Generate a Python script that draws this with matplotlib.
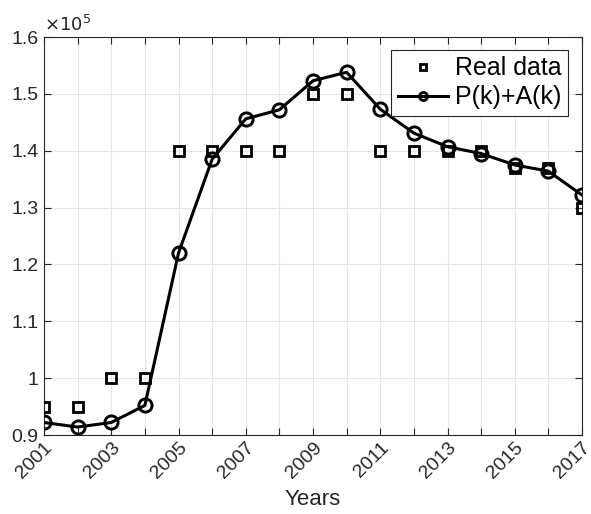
import matplotlib
matplotlib.use('Agg')
import matplotlib.pyplot as plt
import matplotlib.transforms as mtransforms
import numpy as np

plt.rcParams['font.family'] = ['Liberation Sans', 'DejaVu Sans']

# yearly values, in units of 1e5
years = list(range(2001, 2018))
real_data = [0.95, 0.95, 1.0, 1.0, 1.4, 1.4, 1.4, 1.4, 1.5, 1.5,
             1.4, 1.4, 1.4, 1.4, 1.37, 1.37, 1.3]
model = [0.922, 0.914, 0.922, 0.952, 1.22, 1.385, 1.456, 1.472, 1.523, 1.538,
         1.473, 1.431, 1.407, 1.395, 1.375, 1.364, 1.322]
ytick_vals = [0.9, 1.0, 1.1, 1.2, 1.3, 1.4, 1.5, 1.6]
ytick_labels = ['0.9', '1', '1.1', '1.2', '1.3', '1.4', '1.5', '1.6']

fig = plt.figure(figsize=(5.91, 5.14), dpi=100)
ax = fig.add_axes([44 / 591, 1 - 435 / 514, 538 / 591, 398 / 514])

ax.plot(years, real_data, 's', ms=7, mfc='none', mec='black', mew=2.0,
        label='Real data', zorder=3)
ax.plot(years, model, '-o', color='black', lw=2.2, ms=9.5, mfc='none',
        mew=2.1, label='P(k)+A(k)', zorder=4)

ax.set_xlim(2001, 2017)
ax.set_ylim(0.9, 1.6)
ax.set_xticks(years)
ax.set_xticklabels([str(y) if (y - 2001) % 2 == 0 else '' for y in years],
                   rotation=45, ha='right', va='top', rotation_mode='anchor',
                   fontsize=14)
# nudge the slanted year labels a little to the right
shift = mtransforms.ScaledTranslation(4 / 100, 0, fig.dpi_scale_trans)
for lab in ax.get_xticklabels():
    lab.set_transform(lab.get_transform() + shift)
ax.set_yticks(ytick_vals)
ax.set_yticklabels(ytick_labels, fontsize=14)
ax.tick_params(direction='in', length=5, width=0.8, top=True, right=True,
               color='#262626', labelcolor='#262626', pad=4)
ax.tick_params(axis='x', pad=3)
ax.grid(True, color='#e6e6e6', lw=0.8)
ax.set_axisbelow(True)
for s in ax.spines.values():
    s.set_color('#262626')
    s.set_linewidth(0.8)

ax.set_xlabel('Years', fontsize=16, color='#262626', labelpad=5)
ax.text(0.0, 1.005, r'$\times10^5$', transform=ax.transAxes, fontsize=13,
        color='#262626', ha='left', va='bottom')

leg = ax.legend(loc='upper right', fontsize=18, markerscale=0.6,
                handlelength=2.0, handletextpad=0.3, borderpad=0.25,
                labelspacing=0.2, borderaxespad=0, fancybox=False,
                framealpha=1, bbox_to_anchor=(0.974, 0.967))
leg.get_frame().set_edgecolor('#262626')
leg.get_frame().set_linewidth(0.8)

fig.savefig('out.png', dpi=100)
